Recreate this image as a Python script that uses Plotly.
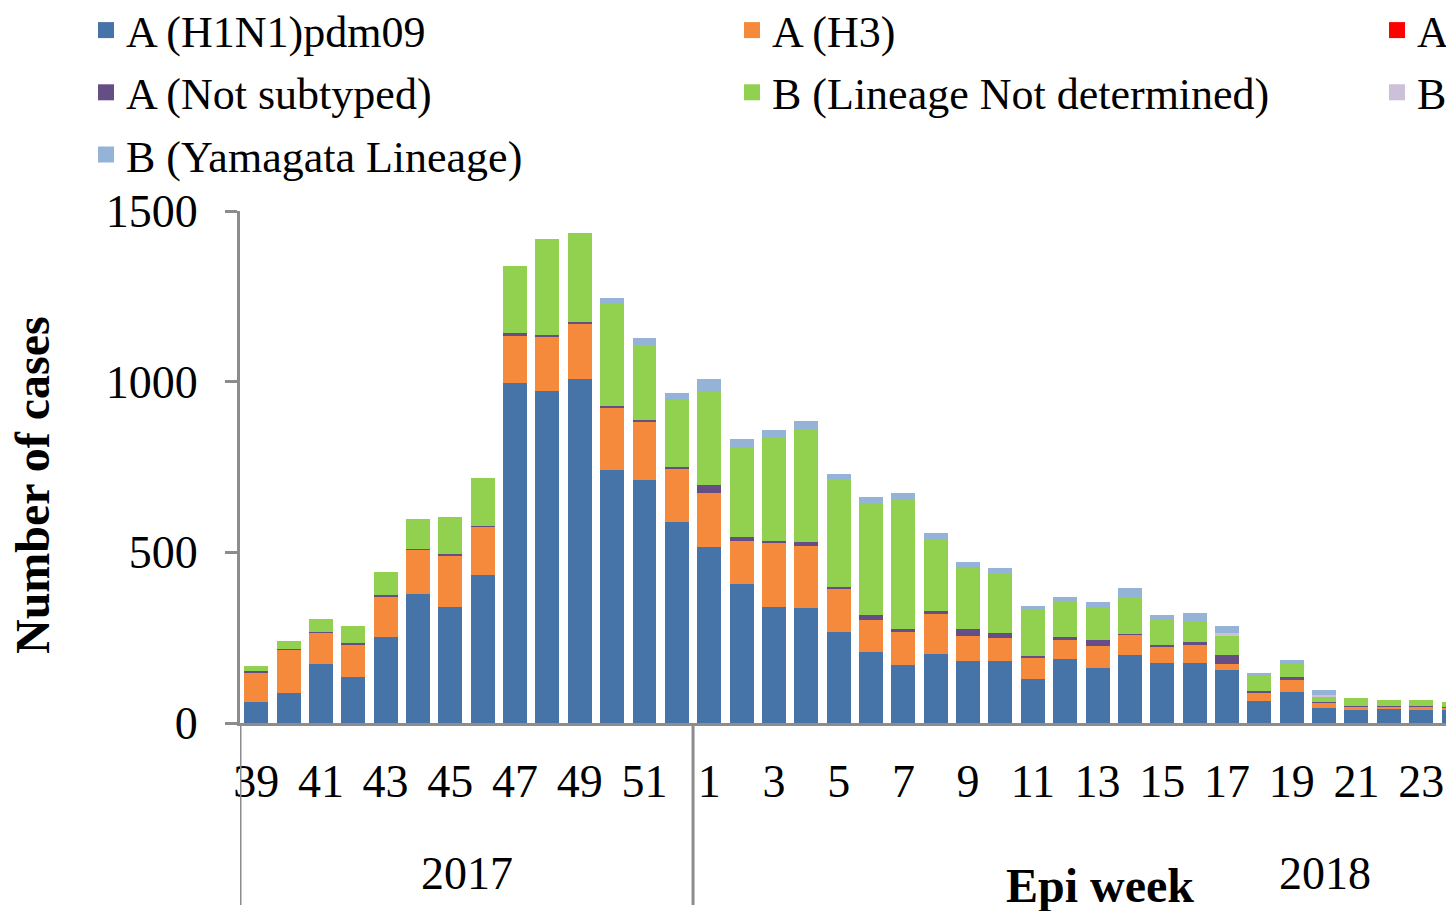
import plotly.graph_objects as go

weeks = ["39", "40", "41", "42", "43", "44", "45", "46", "47", "48", "49", "50", "51", "52",
         "1", "2", "3", "4", "5", "6", "7", "8", "9", "10", "11", "12", "13", "14", "15", "16",
         "17", "18", "19", "20", "21", "22", "23", "24"]
tick_weeks = ["39", "41", "43", "45", "47", "49", "51", "1", "3", "5", "7", "9", "11", "13",
              "15", "17", "19", "21", "23"]
years = ["2017", "2018"]

h1n1 = [62, 87, 172, 136, 253, 378, 341, 433, 995, 973, 1009, 741, 712, 590,
        517, 406, 341, 338, 268, 209, 169, 203, 183, 183, 129, 187, 160, 199, 177, 177,
        155, 65, 92, 43, 38, 40, 38, 38]
h3 = [86, 127, 94, 95, 118, 129, 150, 142, 140, 160, 162, 184, 171, 156,
      156, 128, 188, 182, 125, 93, 97, 115, 72, 65, 63, 56, 66, 59, 47, 51,
      18, 24, 34, 16, 10, 8, 9, 8]
a_red = [0] * 38
a_nst = [3, 2, 2, 4, 4, 4, 4, 2, 8, 3, 4, 4, 4, 4,
         24, 12, 5, 10, 5, 14, 9, 10, 20, 15, 5, 10, 17, 2, 5, 10,
         26, 6, 8, 3, 3, 3, 3, 2]
b_nd = [17, 25, 38, 48, 66, 88, 109, 142, 197, 283, 261, 301, 221, 196,
        274, 259, 302, 329, 316, 330, 381, 211, 180, 176, 134, 105, 96, 110, 73, 59,
        56, 43, 39, 17, 21, 16, 17, 14]
b_vic = [0] * 30 + [10, 0, 0, 3, 0, 0, 0, 0]
b_yam = [0] * 11 + [14, 21, 22,
                    36, 26, 22, 27, 16, 15, 17, 17, 16, 16, 12, 12, 15, 26, 14, 26,
                    19, 9, 12, 15, 0, 0, 0, 0]

series = [
    ("A (H1N1)pdm09", h1n1, "#4673A8", "legend"),
    ("A (H3)", h3, "#F68A3C", "legend2"),
    ("A (H5)", a_red, "#FF0000", "legend3"),
    ("A (Not subtyped)", a_nst, "#654E86", "legend"),
    ("B (Lineage Not determined)", b_nd, "#92D050", "legend2"),
    ("B (Victoria Lineage)", b_vic, "#CCC0DA", "legend3"),
    ("B (Yamagata Lineage)", b_yam, "#95B3D7", "legend"),
]

FONT = "Liberation Serif"
fig = go.Figure()
for i, (name, vals, color, lg) in enumerate(series):
    fig.add_trace(go.Bar(x=weeks, y=vals, name=name, marker_color=color,
                         marker_line_width=0, legendgroup=f"g{i}", showlegend=False))
    # legend key (larger square swatch like the original)
    fig.add_trace(go.Scatter(x=[None], y=[None], mode="markers", name=name,
                             marker=dict(symbol="square", size=16, color=color),
                             legend=lg, legendgroup=f"g{i}", hoverinfo="skip"))

# page has an 8px body margin: screen px = figure px + 8
OFF = 8
W, H = 1454 - OFF, 911 - OFF
AX_L, AX_TOP, AX_BOT = 240, 211, 723          # screen px of plot area
L = AX_L - OFF
T = AX_TOP - OFF
B = H - (AX_BOT - OFF)
pw, ph = W - L, H - T - B

def px_x(p):
    return (p - OFF - L) / pw

def px_y(p):
    return (H - B - (p - OFF)) / ph

legend_common = dict(xanchor="left", yanchor="top", y=px_y(-5), bgcolor="rgba(0,0,0,0)",
                     font=dict(family=FONT, size=44, color="black"), tracegroupgap=2,
                     orientation="v", itemsizing="trace")

fig.update_layout(
    width=W, height=H,
    margin=dict(l=L, r=0, t=T, b=B, pad=0, autoexpand=False),
    barmode="stack", bargap=0.26,
    plot_bgcolor="white", paper_bgcolor="white",
    font=dict(family=FONT, color="black"),
    legend=dict(x=px_x(86), **legend_common),
    legend2=dict(x=px_x(732), **legend_common),
    legend3=dict(x=px_x(1377), **legend_common),
    xaxis=dict(type="category", categoryorder="array", categoryarray=weeks,
               range=[-0.5, -0.5 + pw / 32.36],
               tickmode="array", tickvals=tick_weeks, ticktext=tick_weeks, tickangle=0,
               ticks="", showline=True, linecolor="#8C8C8C", linewidth=3,
               showgrid=False, zeroline=False, ticklabelstandoff=16,
               tickfont=dict(family=FONT, size=46, color="black")),
    yaxis=dict(range=[0, 1500], tickvals=[0, 500, 1000, 1500], ticks="outside",
               ticklen=12, tickwidth=3, tickcolor="#8C8C8C",
               showline=True, linecolor="#8C8C8C", linewidth=3,
               showgrid=False, zeroline=False, ticklabelstandoff=18,
               tickfont=dict(family=FONT, size=46, color="black")),
)

# group dividers below the axis
for xv in [-0.5, 13.5]:
    fig.add_shape(type="line", xref="x", yref="paper", x0=xv, x1=xv,
                  y0=0, y1=px_y(905), line=dict(color="#8C8C8C", width=3))

ann = dict(showarrow=False, xanchor="center", yanchor="middle")
fig.add_annotation(text=years[0], xref="x", yref="paper", x=6.5, y=px_y(873),
                   font=dict(family=FONT, size=46, color="black"), **ann)
fig.add_annotation(text=years[1], xref="x", yref="paper", x=33.03, y=px_y(873),
                   font=dict(family=FONT, size=46, color="black"), **ann)
fig.add_annotation(text="<b>Epi week</b>", xref="paper", yref="paper", x=px_x(1100),
                   y=px_y(885), font=dict(family=FONT, size=48, color="black"), **ann)
fig.add_annotation(text="<b>Number of cases</b>", xref="paper", yref="paper",
                   x=px_x(32), y=px_y(485), textangle=-90,
                   font=dict(family=FONT, size=48, color="black"), **ann)

fig.write_html("out.html")
